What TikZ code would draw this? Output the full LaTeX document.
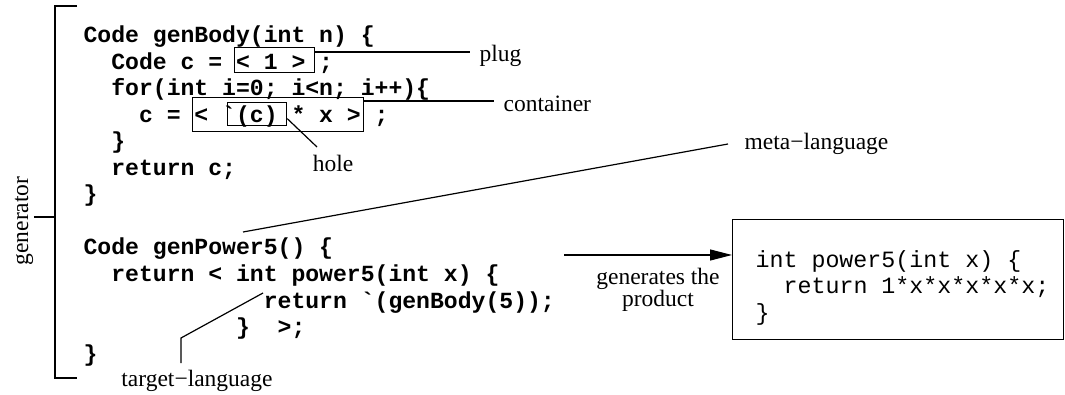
\documentclass[tikz,border=0pt]{standalone}
\usepackage{fontspec}
\setmainfont{Liberation Serif}
\setmonofont{Liberation Mono}
\usetikzlibrary{arrows.meta}

\newcommand\codefont{\fontsize{23.1}{26.5}\selectfont\ttfamily\bfseries}
\newcommand\outfont{\fontsize{23.3}{26}\selectfont\ttfamily}
\newcommand\lblfont{\fontsize{23.5}{22}\selectfont}

\tikzset{
  code/.style={anchor=base west,inner sep=0pt,font=\codefont},
  outcode/.style={anchor=base west,inner sep=0pt,font=\outfont},
  lbl/.style={anchor=base west,inner sep=0pt,font=\lblfont},
  cbox/.style={draw,inner sep=0pt,anchor=north west},
}

\begin{document}
\begin{tikzpicture}[x=1pt,y=-1pt,line width=1.2pt]
\useasboundingbox (0,0) rectangle (1065,395);
% generator listing, one node per line (column, row)
\foreach \r/\c/\t in {1/0/{Code genBody(int n) \{},2/2/{Code c = < 1 > ;},3/2/{for(int i=0; i<n; i++)\{},
  4/4/{c = < `(c) * x > ;},5/2/{\}},6/2/{return c;},7/0/{\}},
  9/0/{Code genPower5() \{},10/2/{return < int power5(int x) \{},11/13/{return `(genBody(5));},
  12/11/{\}~~>;},13/0/{\}}}
  \node[code] (l\r) at ({83+\c*13.86},{43+(\r-1)*26.5}) {\t};
% plug, container and hole boxes
\node[cbox,minimum width=80pt,minimum height=25pt] (plugbox) at (234,47) {};
\node[cbox,minimum width=171pt,minimum height=34pt] (contbox) at (192,97) {};
\node[cbox,minimum width=59pt,minimum height=23pt] (holebox) at (227,102) {};
% labels
\node[lbl] (plug) at (479,62) {plug};
\node[lbl] (container) at (503,112) {container};
\node[lbl,anchor=base] (hole) at (333,172) {hole};
\node[lbl] (meta) at (744,150) {meta−language};
\node[lbl,anchor=base] (target) at (197,386) {target−language};
\node[rotate=90,inner sep=0pt,font=\lblfont] (gen) at (24,221) {generator};
\draw ([shift={(0,5)}]plugbox.north east) -- ([shift={(-9,-10)}]plug.base west);
\draw ([shift={(0,4)}]contbox.north east) -- ([shift={(-9,-11)}]container.base west);
\draw ([shift={(0,4.5)}]holebox.east) -- ([shift={(-16,-25)}]hole.base);
\coordinate (metatip) at (243,232);
\draw (metatip) -- ([shift={(-16,-6)}]meta.base west);
\coordinate (targettip) at (263,293);
\draw (targettip) -- ++(-82,45) -- ([shift={(-16,-23)}]target.base);
% bracket round the generator
\draw (77,6) -- (55,6) -- (55,378) -- (77,378);
\draw ([yshift=4pt]gen.south) -- ++(20.5,0);
% generated program
\node[cbox,minimum width=331pt,minimum height=120pt] (product) at (732,219) {};
\foreach \r/\c/\t in {1/0/{int power5(int x) \{},2/2/{return 1*x*x*x*x*x;},3/0/{\}}}
  \node[outcode] (o\r) at ({755+\c*14},{268+(\r-1)*26}) {\t};
\coordinate (genstart) at (564,255);
\draw[-{Triangle[length=22pt,width=11pt]}] (genstart) -- (genstart -| product.west);
\node[font=\lblfont,align=center,anchor=north,inner sep=0pt] (gentext) at (658,267.5) {generates the\\product};
\end{tikzpicture}
\end{document}
